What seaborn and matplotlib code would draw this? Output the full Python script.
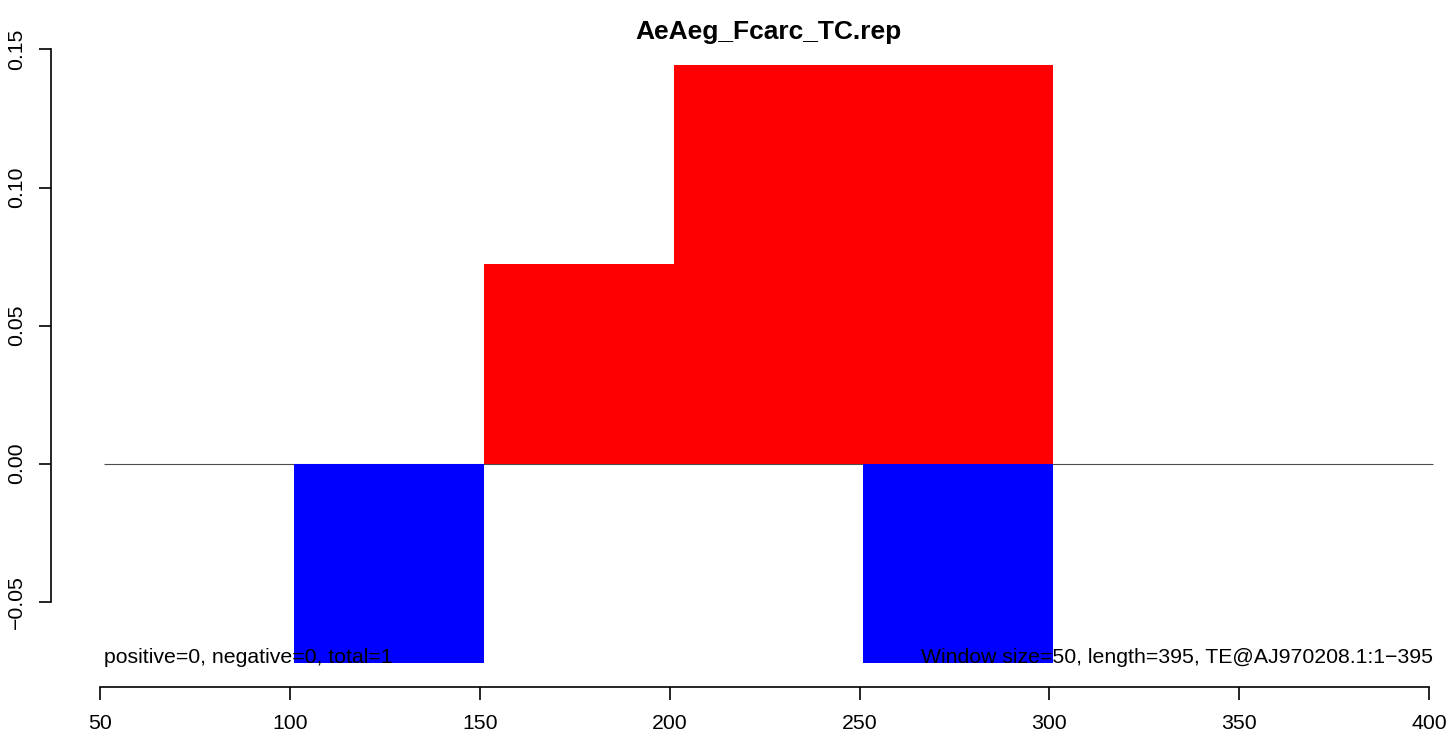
import matplotlib
matplotlib.use("Agg")
import matplotlib.pyplot as plt
import seaborn as sns

# window starts (size 50) and scores
window_starts = [51, 101, 151, 201, 251, 301, 351]
window_size = 50
pos_scores = [0, 0, 0.0722, 0.1444, 0.1444, 0, 0]
neg_scores = [0, -0.0722, 0, 0, -0.0722, 0, 0]

title = "AeAeg_Fcarc_TC.rep"
left_note = "positive=0, negative=0, total=1"
right_note = "Window size=50, length=395, TE@AJ970208.1:1\u2212395"
x_ticks = [50, 100, 150, 200, 250, 300, 350, 400]
y_ticks = [-0.05, 0.00, 0.05, 0.10, 0.15]

sns.set_style("ticks")
plt.rcParams['font.family'] = ['Liberation Sans', 'DejaVu Sans']
plt.rcParams['text.color'] = 'black'
plt.rcParams['xtick.color'] = 'black'
plt.rcParams['ytick.color'] = 'black'

W, H = 1449, 738
fig = plt.figure(figsize=(W / 100, H / 100), dpi=100)
ax = fig.add_axes([51 / W, (H - 687) / H, (1486 - 51) / W, 646 / H])

centers = [s + window_size / 2 for s in window_starts]
x0, x1 = window_starts[0], window_starts[-1] + window_size
ax.hlines(0, x0, x1, color='#4d4d4d', lw=0.8, zorder=1)
sns.barplot(x=centers, y=pos_scores, native_scale=True, width=1, color='#ff0000',
            linewidth=0, saturation=1, ax=ax, zorder=2)
sns.barplot(x=centers, y=neg_scores, native_scale=True, width=1, color='#0000ff',
            linewidth=0, saturation=1, ax=ax, zorder=2)

ymin = min(neg_scores)
ymax = max(pos_scores)
xpad = (x1 - x0) * 0.04
ypad = (ymax - ymin) * 0.04
ax.set_xlim(x0 - xpad, x1 + xpad)
ax.set_ylim(ymin - ypad, ymax + ypad)

ax.text(x0, ymin, left_note, ha='left', va='baseline', fontsize=15.3,
        color='black', zorder=3)
ax.text(x1, ymin, right_note, ha='right', va='baseline', fontsize=15.3,
        color='black', zorder=3)

ax.set_xticks(x_ticks)
ax.set_xticklabels([str(t) for t in x_ticks])
ax.set_yticks(y_ticks)
ax.set_yticklabels([f"{t:.2f}".replace('-', '\u2212') for t in y_ticks])
plt.setp(ax.get_yticklabels(), rotation=90, va='center')
ax.tick_params(axis='both', direction='out', length=9, width=1.2, colors='black',
               labelcolor='black', labelsize=15.3, bottom=True, left=True)
ax.tick_params(axis='x', pad=10.5)
ax.tick_params(axis='y', pad=9)

for side in ['top', 'right']:
    ax.spines[side].set_visible(False)
ax.spines['left'].set_bounds(y_ticks[0], y_ticks[-1])
ax.spines['bottom'].set_bounds(x_ticks[0], x_ticks[-1])
for side in ['left', 'bottom']:
    ax.spines[side].set_linewidth(1.2)
    ax.spines[side].set_color('black')
ax.set_xlabel('')
ax.set_ylabel('')

fig.text(768 / W, 1 - 32 / H, title, ha='center', va='center', fontsize=19,
         fontweight='bold', color='black')

fig.savefig("out.png", dpi=100)
